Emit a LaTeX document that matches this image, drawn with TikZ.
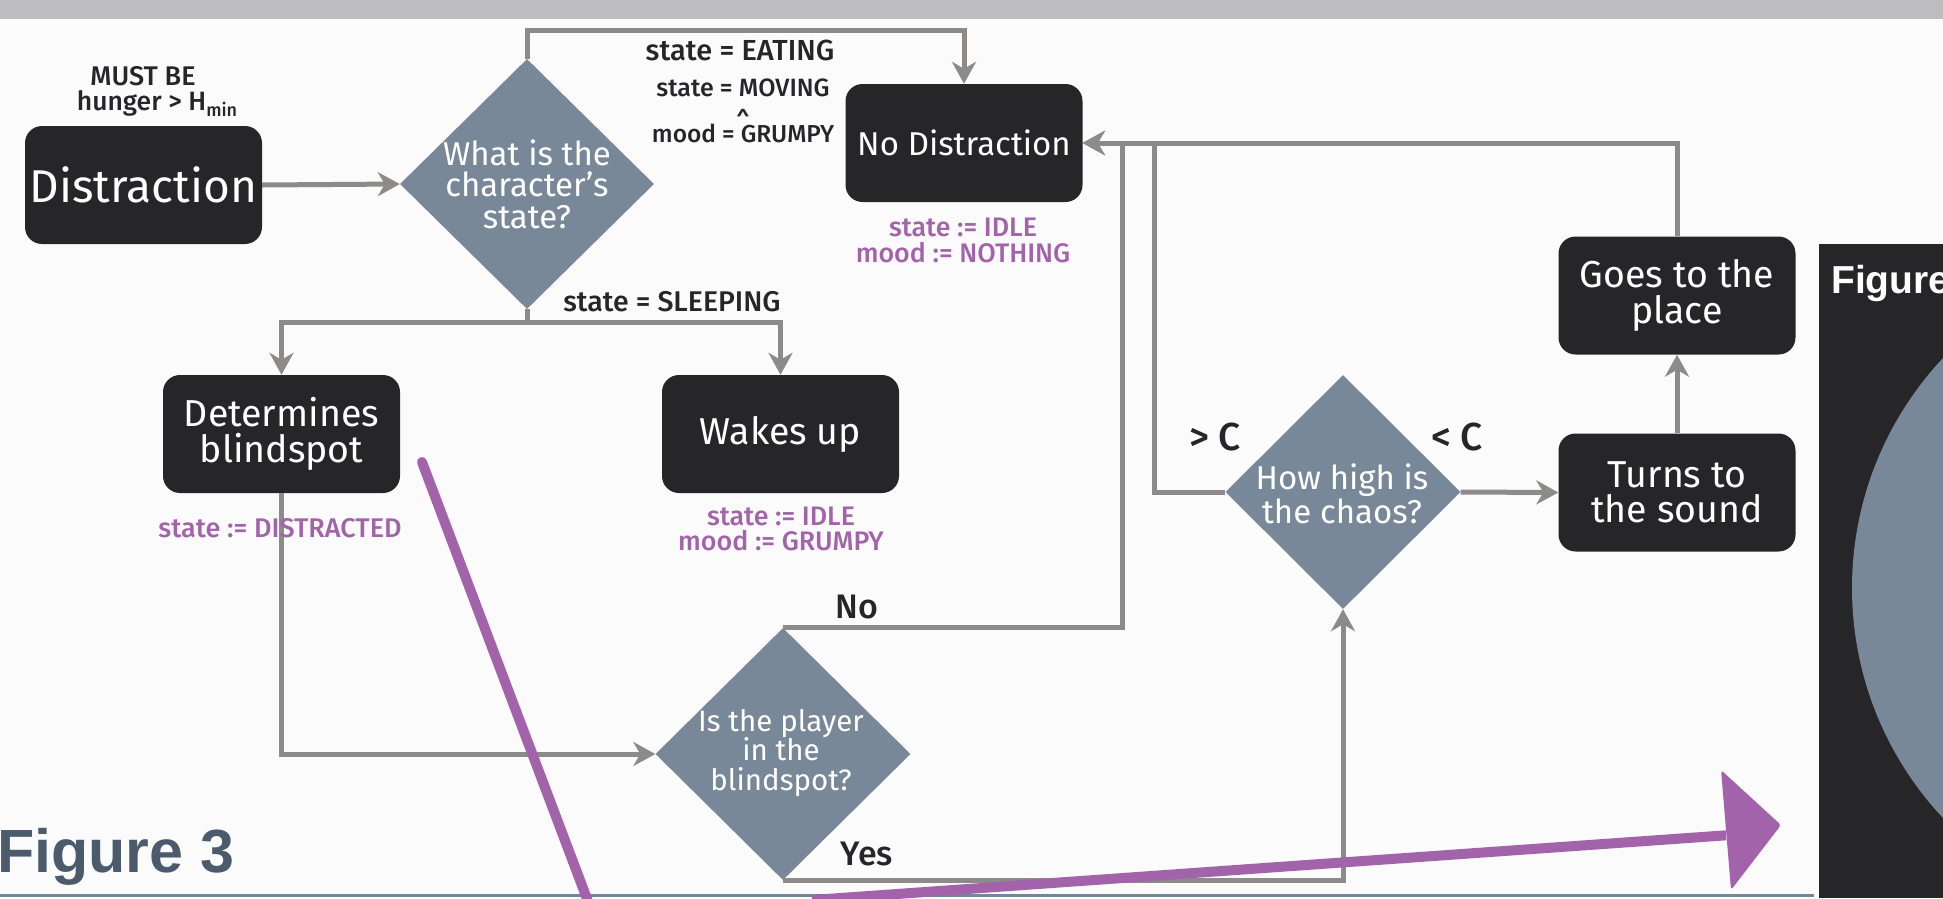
\documentclass[tikz,border=0pt]{standalone}
\usepackage{fontspec}
\setmainfont{Fira Sans}
\newfontfamily\labfont{Fira Sans Medium}
\newfontfamily\figfont{Liberation Sans}
\usetikzlibrary{arrows.meta,shapes.geometric}

\definecolor{bgc}{HTML}{FBFBFB}
\definecolor{barc}{HTML}{BDBDBF}
\definecolor{boxc}{HTML}{262528}
\definecolor{diac}{HTML}{788898}
\definecolor{linec}{HTML}{8C8B89}
\definecolor{purp}{HTML}{A263AA}
\definecolor{inkc}{HTML}{262528}
\definecolor{slate}{HTML}{4B5B6C}
\definecolor{rulec}{HTML}{73869A}

\newcommand{\pxfont}[1]{\fontsize{#1pt}{#1pt}\selectfont}
\newcommand{\pxlead}[2]{\fontsize{#1pt}{#2pt}\selectfont}

\tikzset{
  box/.style={rectangle, rounded corners=17pt, fill=boxc, text=white,
    minimum width=237pt, minimum height=118pt, inner sep=0pt, align=center,
    font=\pxlead{37.5}{35.5}},
  dia/.style={diamond, fill=diac, inner sep=0pt},
  dtext/.style={text=white, align=center, inner sep=0pt},
  lab/.style={text=inkc, inner sep=0pt, anchor=base, font=\labfont\pxfont{26}},
  note/.style={text=purp, inner sep=0pt, anchor=base, font=\labfont\pxfont{26.8}},
  conn/.style={draw=linec, line width=5pt},
  arr/.style={conn, -{Stealth[length=22pt, width=24pt, inset=7pt]}},
  penmark/.style={draw=purp, line width=10pt}
}

\begin{document}
\begin{tikzpicture}[x=1pt, y=-1pt]
\useasboundingbox (0,0) rectangle (1943,898);
\clip (0,0) rectangle (1943,898);

% page and header band
\fill[bgc] (0,0) rectangle (1943,898);
\fill[barc] (0,0) rectangle (1943,18.6);

% process boxes
\node[box, font=\pxfont{46}] (dist) at (143.5,185) {Distraction};
\node[box, font=\pxfont{33}] (nodis) at (964,143) {No Distraction};
\node[box] (determ) at (281.5,434) {Determines\\blindspot};
\node[box] (wakes) at (780.5,434) {Wakes up};
\node[box] (goes) at (1677,295.5) {Goes to the\\place};
\node[box] (turns) at (1677,492.5) {Turns to\\the sound};

% decisions
\node[dia, minimum width=254pt, minimum height=250pt] (d1) at (527,184) {};
\node[dtext, font=\pxlead{33}{31.5}] (d1t) at (527,184) {What is the\\character's\\state?};
\node[dia, minimum width=255pt, minimum height=252pt] (d2) at (783,754) {};
\node[dtext, font=\pxlead{29.5}{29.5}] (d2t) at (781,753) {Is the player\\in the\\blindspot?};
\node[dia, minimum width=235pt, minimum height=234pt] (d3) at (1343,492) {};
\node[dtext, font=\pxlead{33}{34}] (d3t) at (1342,494) {How high is\\the chaos?};

% junction points
\coordinate (k1) at (1122,143);
\coordinate (k2) at (1154,143);

% connectors
\draw[arr] (dist.east) -- (d1.west);
\draw[arr] (d1.north) -- ++(0,-28) -| (nodis.north);
\draw[conn] (d1.south) -- ++(0,13) coordinate (j1);
\draw[arr] (j1) -| (determ.north);
\draw[arr] (j1) -| (wakes.north);
\draw[arr] (determ.south) |- (d2.west);
\draw[arr] (d2.north) -| (k1) -- (nodis.east);
\draw[arr] (d3.west) -| (k2) -- (nodis.east);
\draw[arr] (goes.north) |- (nodis.east);
\draw[arr] (d3.east) -- (turns.west);
\draw[arr] (turns.north) -- (goes.south);
\draw[arr] (d2.south) -| (d3.south);

% condition labels
\node[lab, font=\labfont\pxfont{27}] (must) at (143,85) {MUST BE};
\node[lab, font=\labfont\pxfont{26.5}] (hung) at (157,110) {hunger > H\raisebox{-6pt}{\pxfont{18}min}};
\node[lab, font=\labfont\pxfont{29}] (eat) at (740,60) {state = EATING};
\node[lab, font=\labfont\pxfont{25}] (mov) at (743,96) {state = MOVING};
\node[lab, font=\labfont\pxfont{24}] (andop) at (743,129) {\^{}};
\node[lab, font=\labfont\pxfont{24.5}] (grump) at (743,142) {mood = GRUMPY};
\node[lab, font=\labfont\pxfont{28.5}] (sleep) at (672,311) {state = SLEEPING};
\node[lab, font=\labfont\pxfont{34}] (no) at (857,618) {No};
\node[lab, font=\labfont\pxfont{34}] (yes) at (867,865) {Yes};
\node[lab, font=\labfont\pxfont{39}] (gtc) at (1215,450) {> C};
\node[lab, font=\labfont\pxfont{39}] (ltc) at (1457,450) {< C};

% state updates
\node[note] (n1a) at (963,236) {state := IDLE};
\node[note] (n1b) at (963,262) {mood := NOTHING};
\node[note, font=\labfont\pxfont{27}] (n2) at (280,537) {state := DISTRACTED};
\node[note] (n3a) at (781,525) {state := IDLE};
\node[note] (n3b) at (781,550) {mood := GRUMPY};

% side panel
\fill[boxc] (1819,244) rectangle (1943,898);
\begin{scope}
  \clip (1819,244) rectangle (1943,898);
  \fill[diac] (2188,588) circle[radius=336pt];
\end{scope}
\node[anchor=base west, inner sep=0pt, text=white, font=\figfont\bfseries\pxfont{39}] (fig4) at (1831,293) {Figure};

% footer rule and caption
\draw[rulec, line width=3pt] (0,895) -- (1814,895);
\node[anchor=base west, inner sep=0pt, text=slate, font=\figfont\bfseries\pxfont{61}] (fig3) at (-3,872) {Figure 3};

% hand-drawn marks
\draw[penmark, line cap=round] (422,462) -- (592,912);
\draw[penmark] (812,900) -- (1726,835.3);
\fill[purp, rounded corners=3pt] (1721,770) -- (1781,825) -- (1731,890) -- cycle;
\end{tikzpicture}
\end{document}
